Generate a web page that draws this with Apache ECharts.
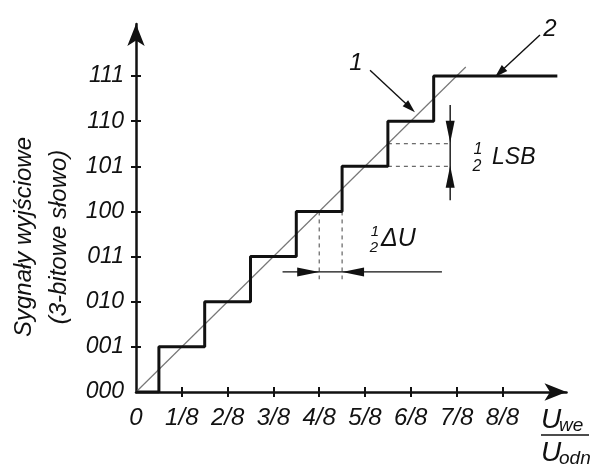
<!DOCTYPE html>
<html><head><meta charset="utf-8">
<script src="https://cdn.jsdelivr.net/npm/echarts@6/dist/echarts.min.js"></script>
<style>html,body{margin:0;padding:0;background:#fff}#c{width:594px;height:466px}</style>
</head><body><div id="c"></div>
<script>
// ---- data (x in units of 1/8 of U_odn, y = output code level) ----
const codes = ['000','001','010','011','100','101','110','111'];
const codeLevels = [0,1,2,3,4,5,6,7];
const xTickLabels = ['0','1/8','2/8','3/8','4/8','5/8','6/8','7/8','8/8'];
const xTickValues = [0,1,2,3,4,5,6,7,8];
const stepEdges = [0.5,1.5,2.5,3.5,4.5,5.5,6.5];   // inputs where code increments
const staircaseEnd = 9.2;
const idealLine = [[0,0],[7.2,7.2]];
// annotation geometry (data units): [x1,y1,x2,y2]
const dashedSegs = [[4,4,4,2.5],[4.5,4,4.5,2.5],[5.5,5.5,6.86,5.5],[5.5,5,6.86,5]];
const thinSegs = [[3.2,2.66,6.68,2.66],[6.86,6.36,6.86,4.25]];
const bigHeads = [[3.2,2.66,4,2.66],[6.68,2.66,4.5,2.66],[6.86,6.36,6.86,5.52],[6.86,4.25,6.86,5.01]];
const pointerArrows = [[5.11,7.13,6.09,6.2],[8.82,7.91,7.84,6.98]];

const staircase = [[0,0]];
stepEdges.forEach((e,i)=>{ staircase.push([e,i]); staircase.push([e,i+1]); });
staircase.push([staircaseEnd, codes.length-1]);

const FONT = "'Liberation Sans', Arial, sans-serif";
const INK = '#111';

function segRender(style){
  return (params, api) => {
    const a = api.coord([api.value(0), api.value(1)]);
    const b = api.coord([api.value(2), api.value(3)]);
    return {type:'line', shape:{x1:a[0],y1:a[1],x2:b[0],y2:b[1]}, style:style};
  };
}
function headRender(len, hw, shaft){
  return (params, api) => {
    const a = api.coord([api.value(0), api.value(1)]);
    const b = api.coord([api.value(2), api.value(3)]);
    const dx=b[0]-a[0], dy=b[1]-a[1], L=Math.hypot(dx,dy), ux=dx/L, uy=dy/L;
    const bx=b[0]-ux*len, by=b[1]-uy*len;
    const children = [{type:'polygon', shape:{points:[[b[0],b[1]],[bx-uy*hw,by+ux*hw],[bx+uy*hw,by-ux*hw]]}, style:{fill:INK}}];
    if (shaft) children.unshift({type:'line', shape:{x1:a[0],y1:a[1],x2:b[0]-ux*len*0.6,y2:b[1]-uy*len*0.6}, style:{stroke:INK,lineWidth:1.4}});
    return {type:'group', children};
  };
}

const XMAX = 9.4, YMAX = 8.15;
const chart = echarts.init(document.getElementById('c'));
chart.setOption({
  animation:false,
  backgroundColor:'#fff',
  grid:{left:136, right:27.5, top:24.1, bottom:74, containLabel:false, outerBoundsMode:'none'},
  xAxis:[{
    type:'value', min:0, max:XMAX, splitLine:{show:false},
    axisLine:{show:true, symbol:['none','arrow'], symbolSize:[13,22], lineStyle:{color:INK, width:2.5}},
    axisTick:{show:true, length:5, customValues:[1,2,3,4,5,6,7,8], lineStyle:{color:INK, width:2}},
    axisLabel:{customValues:xTickValues, formatter:v=>xTickLabels[xTickValues.indexOf(v)], margin:14,
      color:INK, fontSize:24, fontStyle:'italic', fontFamily:FONT}
  },{
    type:'value', min:0, max:XMAX, position:'bottom', splitLine:{show:false},
    axisLine:{show:false}, axisLabel:{show:false},
    axisTick:{show:true, inside:true, length:5, customValues:[1,2,3,4,5,6,7,8], lineStyle:{color:INK, width:2}}
  }],
  yAxis:[{
    type:'value', min:0, max:YMAX, splitLine:{show:false},
    axisLine:{show:true, symbol:['none','arrow'], symbolSize:[13,22], lineStyle:{color:INK, width:2.5}},
    axisTick:{show:true, length:5, customValues:[1,2,3,4,5,6,7], lineStyle:{color:INK, width:2}},
    axisLabel:{customValues:codeLevels, formatter:v=>codes[v], margin:12,
      color:INK, fontSize:23, fontStyle:'italic', fontFamily:FONT}
  },{
    type:'value', min:0, max:YMAX, position:'left', splitLine:{show:false},
    axisLine:{show:false}, axisLabel:{show:false},
    axisTick:{show:true, inside:true, length:5, customValues:[1,2,3,4,5,6,7], lineStyle:{color:INK, width:2}}
  }],
  series:[
    {type:'line', data:idealLine, symbol:'none', lineStyle:{color:'#777', width:1.2}, z:2},
    {type:'line', data:staircase, symbol:'none', lineStyle:{color:INK, width:3}, z:3},
    {type:'custom', data:dashedSegs, renderItem:segRender({stroke:'#444', lineWidth:1, lineDash:[4,4]}), clip:false, z:2},
    {type:'custom', data:thinSegs, renderItem:segRender({stroke:INK, lineWidth:1.4}), clip:false, z:2},
    {type:'custom', data:bigHeads, renderItem:headRender(22,4.5,false), clip:false, z:4},
    {type:'custom', data:pointerArrows, renderItem:headRender(13,4,true), clip:false, z:4}
  ],
  graphic:[
    {type:'text', x:42, y:237, rotation:Math.PI/2, style:{text:'Sygnały wyjściowe\n(3-bitowe słowo)', font:`italic 24px ${FONT}`, fill:INK, align:'center', verticalAlign:'middle', lineHeight:35}},
    {type:'text', x:356, y:63, style:{text:'1', font:`italic 24px ${FONT}`, fill:INK, align:'center', verticalAlign:'middle'}},
    {type:'text', x:550, y:29, style:{text:'2', font:`italic 24px ${FONT}`, fill:INK, align:'center', verticalAlign:'middle'}},
    // 1/2 LSB
    {type:'text', x:478, y:150, style:{text:'1', font:`italic 16px ${FONT}`, fill:INK, align:'center', verticalAlign:'middle'}},
    {type:'text', x:477, y:167, style:{text:'2', font:`italic 16px ${FONT}`, fill:INK, align:'center', verticalAlign:'middle'}},
    {type:'text', x:492, y:158, style:{text:'LSB', font:`italic 23px ${FONT}`, fill:INK, align:'left', verticalAlign:'middle'}},
    // 1/2 ΔU
    {type:'text', x:375, y:232, style:{text:'1', font:`italic 15px ${FONT}`, fill:INK, align:'center', verticalAlign:'middle'}},
    {type:'text', x:374, y:248, style:{text:'2', font:`italic 15px ${FONT}`, fill:INK, align:'center', verticalAlign:'middle'}},
    {type:'text', x:381, y:239, style:{text:'ΔU', font:`italic 25px ${FONT}`, fill:INK, align:'left', verticalAlign:'middle'}},
    // U_we / U_odn
    {type:'text', x:541, y:420, style:{text:'U', font:`italic 28px ${FONT}`, fill:INK, align:'left', verticalAlign:'middle'}},
    {type:'text', x:559, y:426, style:{text:'we', font:`italic 19px ${FONT}`, fill:INK, align:'left', verticalAlign:'middle'}},
    {type:'line', shape:{x1:541, y1:435, x2:589, y2:435}, style:{stroke:INK, lineWidth:1.5}},
    {type:'text', x:541, y:453, style:{text:'U', font:`italic 28px ${FONT}`, fill:INK, align:'left', verticalAlign:'middle'}},
    {type:'text', x:559, y:459, style:{text:'odn', font:`italic 19px ${FONT}`, fill:INK, align:'left', verticalAlign:'middle'}}
  ]
});
</script></body></html>
